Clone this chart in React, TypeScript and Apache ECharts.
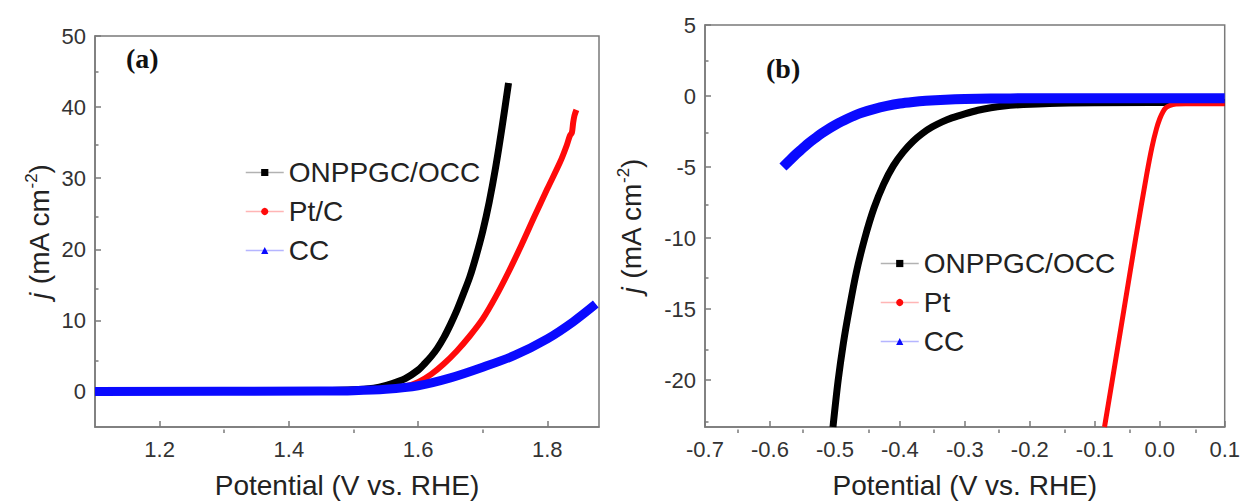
import React, { useEffect, useRef } from "react";
import * as echarts from "echarts";

// ---------- data ----------
// (a) OER polarisation curves: [potential V vs RHE, j mA cm^-2]
const oerOnppgc: [number, number][] = [
  [1.1, 0.05], [1.3, 0.05], [1.45, 0.1], [1.5, 0.25], [1.52, 0.35], [1.54, 0.6], [1.56, 1.1],
  [1.58, 1.8], [1.6, 3.0], [1.61, 3.9], [1.62, 4.9], [1.63, 6.1], [1.64, 7.6], [1.65, 9.4],
  [1.66, 11.4], [1.67, 13.7], [1.68, 16.1], [1.69, 19.1], [1.7, 22.5], [1.71, 26.6], [1.72, 31.5],
  [1.73, 37.2], [1.74, 43.4],
];
const oerPtC: [number, number][] = [
  [1.1, 0.05], [1.45, 0.1], [1.55, 0.3], [1.58, 0.7], [1.6, 1.3], [1.62, 2.4], [1.64, 3.9],
  [1.66, 5.7], [1.68, 7.8], [1.7, 10.2], [1.72, 13.3], [1.74, 16.8], [1.76, 20.6], [1.78, 24.6],
  [1.8, 28.5], [1.82, 32.3], [1.83, 34.6], [1.835, 36.0], [1.838, 36.4], [1.84, 37.8], [1.842, 38.8], [1.845, 39.6],
];
const oerCC: [number, number][] = [
  [1.1, 0], [1.45, 0.05], [1.5, 0.1], [1.55, 0.3], [1.6, 0.8], [1.65, 1.9], [1.7, 3.4],
  [1.75, 5.1], [1.8, 7.4], [1.84, 9.8], [1.875, 12.3],
];
// (b) HER polarisation curves
const herOnppgc: [number, number][] = [
  [-0.503, -23.3], [-0.495, -20], [-0.487, -17.4], [-0.478, -15], [-0.467, -12.4], [-0.454, -10],
  [-0.44, -7.9], [-0.425, -6.2], [-0.41, -4.9], [-0.395, -3.95], [-0.38, -3.2], [-0.365, -2.62],
  [-0.35, -2.17], [-0.335, -1.82], [-0.32, -1.54], [-0.3, -1.25], [-0.28, -1.0], [-0.26, -0.82],
  [-0.24, -0.7], [-0.21, -0.6], [-0.17, -0.52], [-0.1, -0.48], [0.1, -0.45],
];
const herPt: [number, number][] = [
  [-0.085, -23.3], [-0.073, -20], [-0.055, -15], [-0.037, -10], [-0.02, -5.5], [-0.012, -3.6],
  [-0.005, -2.3], [0.0, -1.6], [0.005, -1.1], [0.01, -0.8], [0.016, -0.65], [0.025, -0.57],
  [0.04, -0.55], [0.1, -0.55],
];
const herCC: [number, number][] = [
  [-0.58, -5.0], [-0.57, -4.55], [-0.56, -4.1], [-0.55, -3.7], [-0.54, -3.3], [-0.53, -2.95],
  [-0.52, -2.62], [-0.51, -2.32], [-0.5, -2.05], [-0.49, -1.8], [-0.48, -1.58], [-0.47, -1.38],
  [-0.46, -1.2], [-0.44, -0.92], [-0.42, -0.7], [-0.4, -0.53], [-0.38, -0.42], [-0.36, -0.34],
  [-0.33, -0.26], [-0.3, -0.21], [-0.26, -0.18], [-0.2, -0.16], [0.1, -0.15],
];

// tick labels
const xTicksA = [1.2, 1.4, 1.6, 1.8];
const xMinorA = [1.3, 1.5, 1.7];
const yTicksA = [0, 10, 20, 30, 40, 50];
const yMinorA = [5, 15, 25, 35, 45];
const xTicksB = [-0.7, -0.6, -0.5, -0.4, -0.3, -0.2, -0.1, 0.0, 0.1];
const xMinorB = [-0.65, -0.55, -0.45, -0.35, -0.25, -0.15, -0.05, 0.05];
const yTicksB = [-20, -15, -10, -5, 0, 5];
const yMinorB = [-22.5, -17.5, -12.5, -7.5, -2.5, 2.5];

const legendA = ["ONPPGC/OCC", "Pt/C", "CC"];
const legendB = ["ONPPGC/OCC", "Pt", "CC"];

const FONT = "Liberation Sans, Arial, sans-serif";
const AXIS = "#7a7a7a";
const BLACK = "#000000";
const RED = "#ff0a0a";
const BLUE = "#0a0aff";

function mainX(grid: number, min: number, max: number, ticks: number[]) {
  return {
    type: "value", gridIndex: grid, min, max, position: "bottom",
    axisLine: { show: true, onZero: false, lineStyle: { color: AXIS, width: 1.5 } },
    axisTick: { show: true, inside: true, length: 6, customValues: ticks, lineStyle: { color: AXIS, width: 1.5 } },
    axisLabel: { customValues: ticks, formatter: (v: number) => v.toFixed(1), fontSize: 22, color: "#333", margin: 11, fontFamily: FONT },
    splitLine: { show: false },
    name: "Potential (V vs. RHE)",
    nameLocation: "middle", nameGap: 44,
    nameTextStyle: { fontSize: 28, color: "#222", fontFamily: FONT },
  };
}
function minorX(grid: number, min: number, max: number, ticks: number[]) {
  return {
    type: "value", gridIndex: grid, min, max, position: "bottom",
    axisLine: { show: false, onZero: false }, axisLabel: { show: false }, splitLine: { show: false },
    axisTick: { show: true, inside: true, length: 3.5, customValues: ticks, lineStyle: { color: AXIS, width: 1.5 } },
  };
}
function mainY(grid: number, min: number, max: number, ticks: number[], gap: number) {
  return {
    type: "value", gridIndex: grid, min, max, position: "left",
    axisLine: { show: true, onZero: false, lineStyle: { color: AXIS, width: 1.5 } },
    axisTick: { show: true, inside: true, length: 6, customValues: ticks, lineStyle: { color: AXIS, width: 1.5 } },
    axisLabel: { customValues: ticks, formatter: (v: number) => String(Math.round(v)), fontSize: 22, color: "#333", margin: 9, fontFamily: FONT },
    splitLine: { show: false },
    name: "{i|j}{n| (mA cm}{s|-2}{n|)}",
    nameLocation: "middle", nameGap: gap,
    nameTextStyle: {
      fontSize: 28, color: "#222", fontFamily: FONT,
      rich: {
        i: { fontSize: 28, fontStyle: "italic", fontFamily: FONT, color: "#222", lineHeight: 32 },
        n: { fontSize: 28, fontFamily: FONT, color: "#222", lineHeight: 32 },
        s: { fontSize: 17, fontFamily: FONT, color: "#222", lineHeight: 32, verticalAlign: "top", padding: [0, 0, 14, 0] },
      },
    },
  };
}
function minorY(grid: number, min: number, max: number, ticks: number[]) {
  return {
    type: "value", gridIndex: grid, min, max, position: "left",
    axisLine: { show: false, onZero: false }, axisLabel: { show: false }, splitLine: { show: false },
    axisTick: { show: true, inside: true, length: 3.5, customValues: ticks, lineStyle: { color: AXIS, width: 1.5 } },
  };
}

function line(name: string, data: [number, number][], axis: number, color: string, width: number, symbol: string) {
  return {
    type: "line", name, data, xAxisIndex: axis, yAxisIndex: axis,
    symbol, symbolSize: 7, showSymbol: false,
    smooth: 0.3,
    lineStyle: { color, width, join: "round" },
    itemStyle: { color },
    silent: true,
  };
}

function legend(left: number, top: number, data: string[]) {
  return {
    left, top, orient: "vertical", data, selectedMode: false,
    itemWidth: 38, itemHeight: 9, itemGap: 8,
    lineStyle: { width: 1.5, opacity: 0.3 },
    textStyle: { fontSize: 28, color: "#222", fontFamily: FONT, lineHeight: 31 },
  };
}

export default function App() {
  const ref = useRef<HTMLDivElement>(null);
  useEffect(() => {
    if (!ref.current) return;
    const chart = echarts.init(ref.current, undefined, { renderer: "svg" });
    const gridA = { left: 95, top: 36, width: 504, height: 397 };
    const gridB = { left: 705, top: 25, width: 523, height: 408 };
    chart.setOption({
      animation: false,
      backgroundColor: "#ffffff",
      grid: [
        { ...gridA, show: true, borderColor: AXIS, borderWidth: 1.5, containLabel: false },
        { ...gridB, show: true, borderColor: AXIS, borderWidth: 1.5, containLabel: false },
        { ...gridA, show: false },
        { ...gridB, show: false },
      ],
      xAxis: [
        mainX(0, 1.1, 1.88, xTicksA),
        mainX(1, -0.7, 0.1, xTicksB),
        minorX(2, 1.1, 1.88, xMinorA),
        minorX(3, -0.7, 0.1, xMinorB),
      ],
      yAxis: [
        mainY(0, -5, 50, yTicksA, 40),
        mainY(1, -23.3, 5, yTicksB, 58),
        minorY(2, -5, 50, yMinorA),
        minorY(3, -23.3, 5, yMinorB),
      ],
      legend: [legend(240, 152, legendA), legend(875, 243, legendB)],
      series: [
        line("ONPPGC/OCC", oerOnppgc, 0, BLACK, 7, "rect"),
        line("Pt/C", oerPtC, 0, RED, 6, "circle"),
        line("CC", oerCC, 0, BLUE, 9, "triangle"),
        line("ONPPGC/OCC", herOnppgc, 1, BLACK, 7, "rect"),
        line("Pt", herPt, 1, RED, 5, "circle"),
        line("CC", herCC, 1, BLUE, 10, "triangle"),
      ],
      graphic: [
        { type: "text", left: 126, top: 44, style: { text: "(a)", fontSize: 28, fontWeight: "bold", fontFamily: "Liberation Serif, Times New Roman, serif", fill: "#111" } },
        { type: "text", left: 766, top: 54, style: { text: "(b)", fontSize: 28, fontWeight: "bold", fontFamily: "Liberation Serif, Times New Roman, serif", fill: "#111" } },
      ],
    });
    return () => chart.dispose();
  }, []);
  return (
    <div
      ref={ref}
      style={{ position: "fixed", left: 0, top: 0, width: 1243, height: 504, background: "#fff" }}
    />
  );
}
